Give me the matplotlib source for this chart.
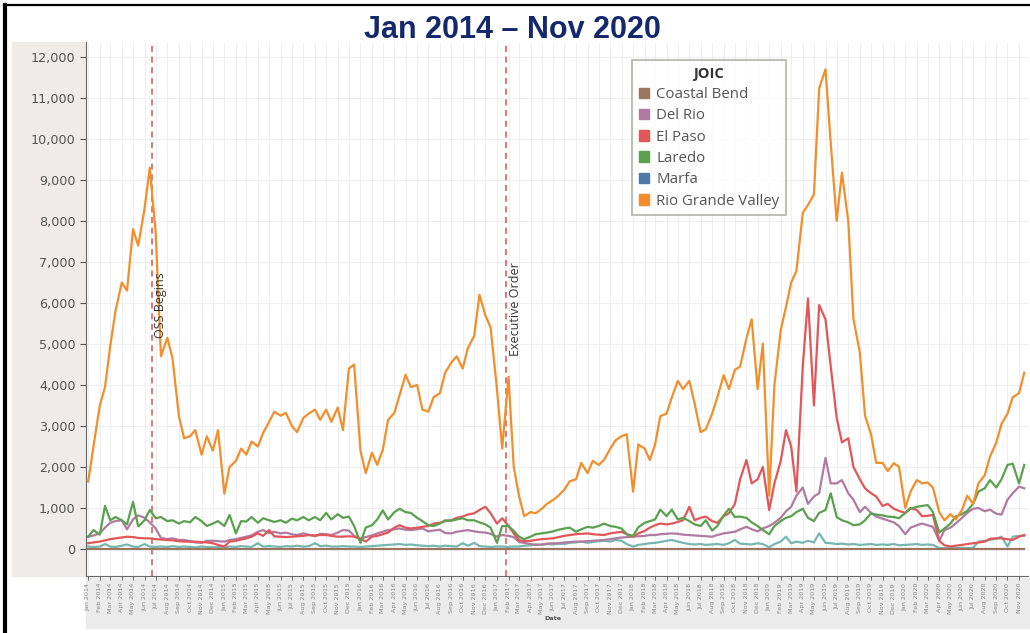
import pandas as pd
import matplotlib
matplotlib.use('Agg')
import matplotlib.pyplot as plt
import matplotlib.dates as mdates
from matplotlib.patches import Patch, Rectangle
from matplotlib.lines import Line2D
from matplotlib.ticker import FuncFormatter, MultipleLocator

# semi-monthly readings, Jan 2014 - Nov 2020 (one row per year)
dates = pd.date_range('2014-01-01', periods=166, freq='SMS')

rio_grande_valley = [
    1650, 2500, 3500, 3950, 4950, 5800, 6500, 6300, 7800, 7400, 8300, 9300, 7700, 4700, 5150, 4650, 3250, 2700, 2750, 2900, 2300, 2750, 2400, 2900,
    1350, 2000, 2150, 2450, 2300, 2620, 2500, 2830, 3100, 3350, 3250, 3320, 3000, 2850, 3200, 3300, 3400, 3150, 3400, 3100, 3450, 2900, 4400, 4500,
    2400, 1850, 2350, 2050, 2420, 3150, 3320, 3750, 4250, 3950, 4000, 3400, 3350, 3700, 3800, 4300, 4550, 4700, 4400, 4900, 5200, 6200, 5700, 5400,
    3900, 2450, 4200, 2000, 1300, 800, 900, 870, 980, 1100, 1200, 1300, 1450, 1650, 1700, 2100, 1850, 2150, 2050, 2170, 2450, 2650, 2750, 2800,
    1400, 2550, 2450, 2170, 2550, 3240, 3300, 3700, 4100, 3900, 4100, 3550, 2850, 2920, 3300, 3700, 4240, 3900, 4370, 4450, 5140, 5600, 3900, 5010,
    1300, 4000, 5340, 5900, 6500, 6780, 8200, 8390, 8650, 11240, 11700, 9900, 8000, 9180, 8000, 5600, 4800, 3250, 2800, 2100, 2100, 1900, 2090, 2010,
    1000, 1400, 1680, 1600, 1620, 1500, 900, 700, 850, 720, 950, 1300, 1100, 1600, 1800, 2250, 2600, 3050, 3300, 3700, 3800, 4300,
]

laredo = [
    300, 460, 350, 1050, 700, 780, 700, 600, 1150, 550, 700, 950, 750, 780, 680, 700, 620, 680, 650, 780, 680, 560, 620, 680,
    560, 830, 380, 680, 670, 780, 640, 750, 700, 660, 700, 640, 740, 700, 780, 700, 780, 700, 880, 720, 850, 760, 790, 560,
    150, 520, 580, 720, 940, 720, 900, 980, 900, 880, 760, 680, 580, 560, 620, 700, 690, 720, 750, 700, 700, 650, 600, 520,
    150, 560, 560, 440, 300, 240, 300, 360, 380, 400, 430, 470, 500, 520, 420, 480, 540, 520, 560, 620, 560, 540, 500, 360,
    320, 530, 640, 680, 720, 960, 800, 960, 720, 760, 680, 600, 560, 700, 450, 560, 820, 980, 780, 790, 760, 650, 560, 460,
    360, 560, 680, 760, 800, 900, 980, 760, 680, 880, 950, 1360, 780, 700, 650, 580, 600, 700, 870, 840, 820, 790, 780, 750,
    880, 980, 1030, 1050, 1070, 900, 400, 500, 620, 790, 850, 930, 1100, 1400, 1480, 1680, 1500, 1700, 2050, 2080, 1600, 2050,
]

del_rio = [
    300, 330, 380, 520, 640, 680, 700, 480, 720, 820, 760, 650, 500, 270, 240, 260, 220, 220, 190, 160, 150, 200, 200, 190,
    180, 220, 240, 270, 300, 330, 420, 460, 390, 420, 380, 400, 360, 340, 380, 350, 310, 370, 360, 340, 400, 460, 450, 320,
    250, 290, 330, 380, 420, 460, 480, 500, 470, 460, 480, 500, 430, 450, 470, 390, 380, 420, 440, 460, 430, 410, 400, 370,
    300, 340, 320, 290, 170, 150, 120, 100, 110, 130, 140, 140, 160, 170, 180, 180, 190, 200, 210, 220, 240, 260, 280, 290,
    300, 310, 320, 340, 340, 360, 370, 380, 370, 350, 340, 330, 320, 310, 300, 340, 380, 400, 420, 480, 540, 480, 430, 500,
    560, 640, 760, 920, 1030, 1300, 1500, 1100, 1280, 1360, 2220, 1600, 1600, 1680, 1360, 1200, 900, 1030, 880, 790, 740, 700, 650, 560,
    360, 520, 580, 620, 580, 540, 200, 460, 520, 620, 760, 880, 980, 1000, 920, 960, 860, 840, 1200, 1360, 1520, 1480,
]

el_paso = [
    140, 160, 180, 210, 240, 260, 280, 300, 290, 270, 260, 260, 240, 230, 220, 210, 190, 180, 180, 180, 170, 160, 140, 100,
    60, 180, 200, 230, 260, 300, 380, 320, 460, 310, 300, 290, 300, 310, 320, 340, 330, 340, 340, 320, 300, 300, 310, 300,
    250, 180, 300, 320, 360, 400, 520, 580, 520, 500, 520, 540, 560, 620, 640, 680, 700, 760, 790, 840, 870, 950, 1030, 870,
    620, 750, 560, 380, 220, 190, 200, 220, 240, 250, 260, 290, 320, 340, 360, 370, 380, 360, 350, 340, 380, 400, 420, 360,
    300, 380, 440, 520, 580, 620, 600, 620, 660, 700, 1030, 700, 760, 790, 680, 640, 800, 870, 1100, 1700, 2170, 1600, 1700, 2000,
    950, 1600, 2150, 2900, 2500, 1400, 4450, 6110, 3500, 5950, 5600, 4450, 3200, 2600, 2700, 2000, 1700, 1480, 1360, 1280, 1050, 1100, 980, 930,
    880, 1000, 950, 800, 810, 830, 200, 90, 60, 80, 100, 120, 140, 160, 180, 250, 260, 260, 240, 220, 300, 340,
]

marfa = [
    60, 50, 60, 120, 60, 50, 80, 110, 60, 50, 120, 60, 50, 60, 50, 70, 50, 60, 50, 40, 60, 50, 40, 50,
    40, 60, 50, 70, 60, 50, 140, 60, 70, 60, 50, 70, 60, 80, 60, 70, 140, 70, 80, 60, 60, 70, 60, 60,
    50, 60, 70, 80, 90, 100, 110, 120, 100, 110, 90, 80, 70, 80, 60, 80, 70, 60, 140, 80, 150, 70, 60, 50,
    60, 60, 50, 60, 60, 80, 90, 110, 100, 120, 110, 130, 120, 150, 160, 180, 150, 170, 190, 200, 180, 220, 200, 120,
    60, 100, 120, 140, 150, 170, 200, 220, 180, 150, 120, 110, 120, 100, 110, 120, 100, 140, 220, 130, 120, 110, 140, 120,
    40, 120, 180, 300, 140, 180, 150, 200, 160, 380, 150, 140, 120, 130, 110, 120, 100, 110, 120, 100, 110, 100, 120, 90,
    100, 110, 120, 100, 110, 100, 20, 20, 20, 20, 30, 20, 30, 180, 200, 220, 250, 300, 60, 300, 320, 320,
]

coastal_bend = [
    0, 0, 0, 0, 0, 0, 0, 0, 0, 0, 0, 0, 0, 0, 0, 0, 0, 0, 0, 0, 0, 0, 0, 0,
    0, 0, 0, 0, 0, 0, 0, 0, 0, 0, 0, 0, 0, 0, 0, 0, 0, 0, 0, 0, 0, 0, 0, 0,
    0, 0, 0, 0, 0, 0, 0, 0, 0, 0, 0, 0, 0, 0, 0, 0, 0, 0, 0, 0, 0, 0, 0, 0,
    0, 0, 0, 0, 0, 0, 0, 0, 0, 0, 0, 0, 0, 0, 0, 0, 0, 0, 0, 0, 0, 0, 0, 0,
    0, 0, 0, 0, 0, 0, 0, 0, 0, 0, 0, 0, 0, 0, 0, 0, 0, 0, 0, 0, 0, 0, 0, 0,
    0, 0, 0, 0, 0, 0, 0, 0, 0, 0, 0, 0, 0, 0, 0, 0, 0, 0, 0, 0, 0, 0, 0, 0,
    0, 0, 0, 0, 0, 0, 0, 0, 0, 0, 0, 0, 0, 0, 0, 0, 0, 0, 0, 0, 0, 0,
]

legend_names = ['Coastal Bend', 'Del Rio', 'El Paso', 'Laredo', 'Marfa', 'Rio Grande Valley']
legend_colors = ['#9C755F', '#B07AA1', '#E15759', '#59A14F', '#4E79A7', '#F28E2B']

events = ['2014-06-20', '2017-01-25']
event_labels = ['OSS Begins', 'Executive Order']
event_label_y = [5950, 5850]

fig = plt.figure(figsize=(10.30, 6.33), dpi=100)

# background bands and frame
fig.patches.append(Rectangle((12/1030, 1-576/633), 74/1030, 534/633, transform=fig.transFigure,
                             color='#EEEBE8', zorder=-5))
fig.patches.append(Rectangle((86/1030, 1-628/633), 944/1030, 50/633, transform=fig.transFigure,
                             color='#EBEBEB', zorder=-5))
fig.lines.append(Line2D([5/1030, 5/1030], [0, 1-5/633], transform=fig.transFigure, color='black', lw=3))
fig.lines.append(Line2D([4/1030, 1], [1-5/633, 1-5/633], transform=fig.transFigure, color='black', lw=1.6))

ax = fig.add_axes([86/1030, 1-576/633, 942/1030, 534/633])
ax.set_facecolor('white')

ax.plot(dates, marfa, color='#76B7B2', lw=1.6)
ax.plot(dates, del_rio, color='#B07AA1', lw=1.6)
ax.plot(dates, el_paso, color='#E15759', lw=1.6)
ax.plot(dates, laredo, color='#59A14F', lw=1.6)
ax.plot(dates, coastal_bend, color='#9C755F', lw=1.6)
ax.plot(dates, rio_grande_valley, color='#F28E2B', lw=1.6)

for d, lab, yy in zip(events, event_labels, event_label_y):
    ax.axvline(pd.Timestamp(d), color='#D9534F', ls=(0, (4, 3)), lw=1.1, zorder=1)
    ax.text(pd.Timestamp(d) + pd.Timedelta(days=25), yy, lab, rotation=90, ha='center', va='center',
            fontsize=9, color='#333333', family='Open Sans')

ax.set_xlim(pd.Timestamp('2013-12-26'), pd.Timestamp('2020-11-25'))
ax.set_ylim(-659, 12366)

ax.yaxis.set_major_locator(MultipleLocator(1000))
ax.yaxis.set_major_formatter(FuncFormatter(lambda v, p: f'{int(v):,}'))
ax.xaxis.set_major_locator(mdates.MonthLocator())
ax.xaxis.set_major_formatter(mdates.DateFormatter('%b %Y'))

ax.tick_params(axis='y', labelsize=9.2, labelcolor='#555555', color='#555555', length=4, width=0.8)
ax.tick_params(axis='x', labelsize=4.6, labelcolor='#8a8a8a', color='#555555', length=3, width=0.6,
               rotation=90, pad=2)

ax.grid(True, axis='both', color='#EFEFEF', lw=0.8)
ax.set_axisbelow(True)
for s in ['top', 'right']:
    ax.spines[s].set_visible(False)
ax.spines['left'].set_color('#666666')
ax.spines['bottom'].set_color('#666666')

fig.text(553/1030, 1-619/633, 'Date', fontsize=4.6, color='#555555', ha='center', va='center',
         fontweight='bold')

handles = [Patch(facecolor=c, edgecolor=c) for c in legend_colors]
leg = ax.legend(handles, legend_names, title='JOIC', loc='upper left',
                bbox_to_anchor=((632-86)/942, (576-60)/534), borderaxespad=0, frameon=True, fancybox=False,
                handlelength=0.7, handleheight=0.7, handletextpad=0.45, labelspacing=0.42,
                borderpad=0.45, prop={'family': 'Open Sans', 'size': 10.8},
                title_fontproperties={'family': 'Open Sans', 'weight': 'bold', 'size': 10.5})
leg.get_frame().set_edgecolor('#A8A8A0')
leg.get_frame().set_linewidth(1.3)
for t in leg.get_texts():
    t.set_color('#555555')
leg.get_title().set_color('#333333')

fig.text(512/1030, 1-30/633, 'Jan 2014 \u2013 Nov 2020', fontsize=22, fontweight='bold',
         color='#14286E', ha='center', va='center', family='Liberation Sans')

fig.savefig('out.png', dpi=100)
